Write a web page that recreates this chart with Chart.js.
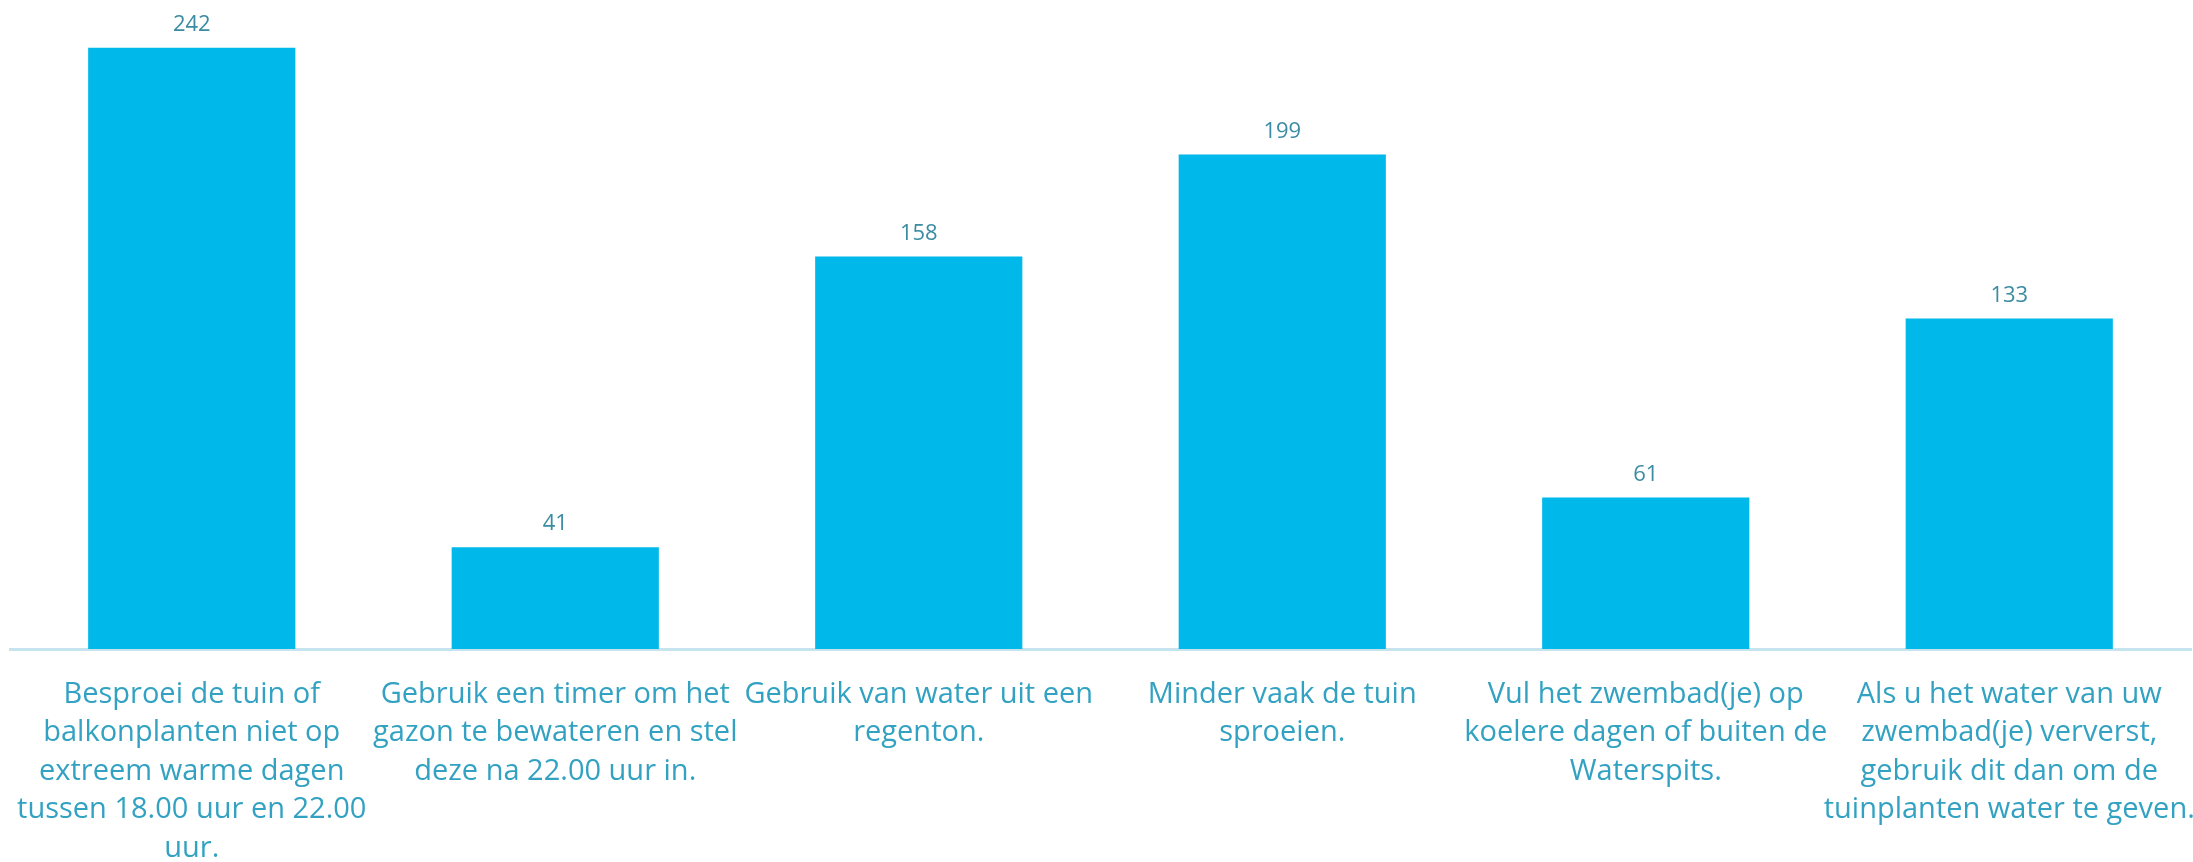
<!DOCTYPE html>
<html>
<head>
<meta charset="utf-8">
<script src="https://cdn.jsdelivr.net/npm/chart.js@4/dist/chart.umd.min.js"></script>
<style>
  html, body { margin: 0; padding: 0; background: #fff; }
  #wrap { width: 2193px; height: 862px; }
</style>
</head>
<body>
<div id="wrap"><canvas id="chart" width="2193" height="862"></canvas></div>
<script>
  // categories (already wrapped the way the original shows them)
  var categories = [
    ['Besproei de tuin of', 'balkonplanten niet op', 'extreem warme dagen', 'tussen 18.00 uur en 22.00', 'uur.'],
    ['Gebruik een timer om het', 'gazon te bewateren en stel', 'deze na 22.00 uur in.'],
    ['Gebruik van water uit een', 'regenton.'],
    ['Minder vaak de tuin', 'sproeien.'],
    ['Vul het zwembad(je) op', 'koelere dagen of buiten de', 'Waterspits.'],
    ['Als u het water van uw', 'zwembad(je) ververst,', 'gebruik dit dan om de', 'tuinplanten water te geven.']
  ];
  var counts = [242, 41, 158, 199, 61, 133];

  var fontFamily = "'Open Sans', sans-serif";

  // simple value labels above the bars
  var valueLabels = {
    id: 'valueLabels',
    afterDatasetsDraw: function(chart) {
      var ctx = chart.ctx;
      var meta = chart.getDatasetMeta(0);
      ctx.save();
      ctx.font = '22px ' + fontFamily;
      ctx.fillStyle = '#3b8ca2';
      ctx.textAlign = 'center';
      ctx.textBaseline = 'middle';
      meta.data.forEach(function(bar, i) {
        ctx.fillText(counts[i], bar.x, bar.y - 23);
      });
      ctx.restore();
    }
  };

  var ctx = document.getElementById('chart').getContext('2d');
  var myChart = new Chart(ctx, {
    type: 'bar',
    data: {
      labels: categories,
      datasets: [{
        data: counts,
        backgroundColor: '#00b8ea',
        borderWidth: 0,
        categoryPercentage: 1,
        barPercentage: 0.57
      }]
    },
    options: {
      responsive: false,
      animation: false,
      layout: { padding: { left: 10, right: 2, top: 3, bottom: 0 } },
      plugins: {
        legend: { display: false },
        tooltip: { enabled: false }
      },
      scales: {
        x: {
          grid: { display: false, drawTicks: false },
          border: { display: true, color: '#c6e4ed', width: 3 },
          afterFit: function(scale) {
            // labels may hang past the plot edge, like the original
            scale.height = 213;
            scale.paddingLeft = 0;
            scale.paddingRight = 0;
          },
          ticks: {
            autoSkip: false,
            maxRotation: 0,
            padding: 26,
            color: '#33a2c2',
            font: { family: fontFamily, size: 29, lineHeight: 1.33 }
          }
        },
        y: {
          display: false,
          min: 0,
          max: 260
        }
      }
    },
    plugins: [valueLabels]
  });
</script>
</body>
</html>
